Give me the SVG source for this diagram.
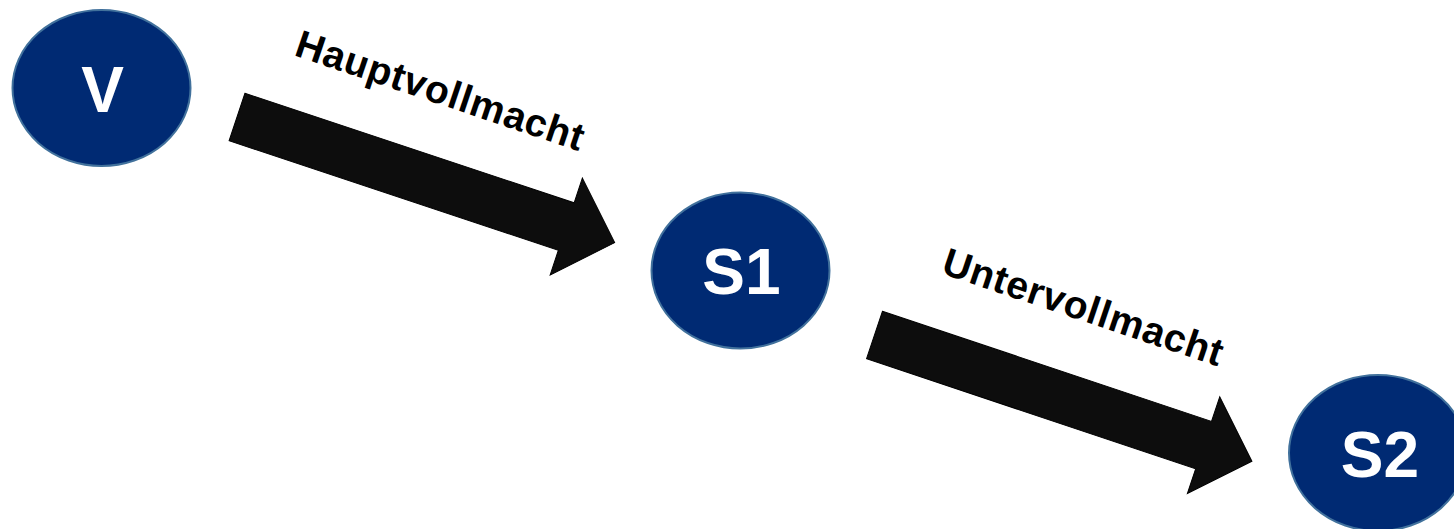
<svg xmlns="http://www.w3.org/2000/svg" width="1454" height="529" viewBox="0 0 1454 529">
<style>
.node ellipse{fill:#002A73;stroke:#41719C;stroke-width:2}
.node text{font-family:"Liberation Sans",Arial,sans-serif;font-weight:bold;font-size:64px;fill:#FFFFFF;text-anchor:middle}
.lbl{font-family:"Liberation Sans",Arial,sans-serif;font-weight:bold;font-size:39px;fill:#000000;letter-spacing:0.7px}
.arrow{fill:#0D0D0D;stroke:#000000;stroke-width:1}
</style>
<defs>
<path id="bigArrow" d="M0,-25 L347,-25 L347,-51 L398,0 L347,51 L347,25 L0,25 Z"/>
</defs>
<rect width="1454" height="529" fill="#FFFFFF"/>
<g id="connectors">
<g id="arrow-V-S1"><use href="#bigArrow" class="arrow" transform="translate(237,117) rotate(18.4)"/></g>
<g id="arrow-S1-S2"><use href="#bigArrow" class="arrow" transform="translate(874.5,335) rotate(18.5)"/></g>
<text class="lbl" transform="translate(293,55) rotate(18.6)">Hauptvollmacht</text>
<text class="lbl" transform="translate(940,273) rotate(18.6)">Untervollmacht</text>
</g>
<g id="node-V" class="node"><ellipse cx="101.5" cy="88" rx="89" ry="78"/><text x="102.5" y="112">V</text></g>
<g id="node-S1" class="node"><ellipse cx="740.5" cy="270.5" rx="89" ry="78"/><text x="741.5" y="294">S1</text></g>
<g id="node-S2" class="node"><ellipse cx="1378" cy="453" rx="89" ry="78"/><text x="1380" y="477">S2</text></g>
</svg>
